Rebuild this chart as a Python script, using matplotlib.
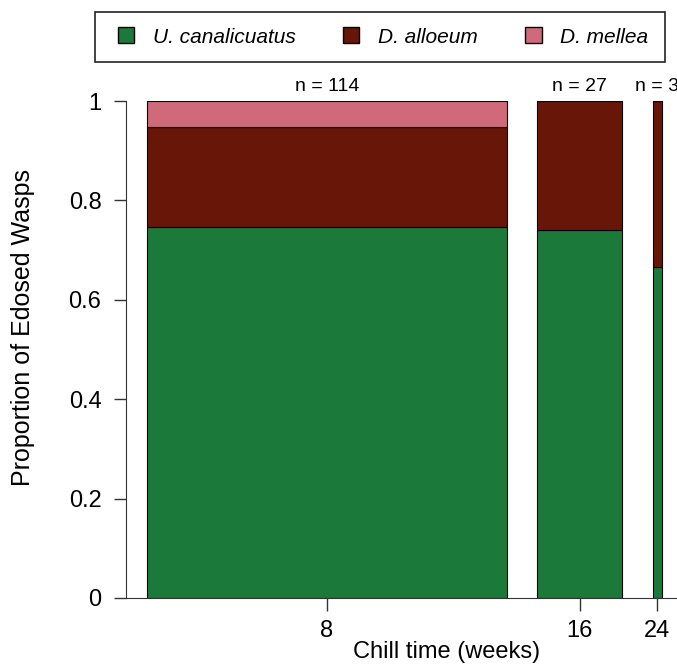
import numpy as np
import matplotlib.pyplot as plt
from matplotlib.patches import Patch, Rectangle

plt.rcParams['font.family'] = ['Liberation Sans', 'DejaVu Sans']

weeks = ['8', '16', '24']
n_total = np.array([114, 27, 3])
u_canal = np.array([85, 20, 2])
d_allo = np.array([23, 7, 1])
d_mell = np.array([6, 0, 0])

species = ['U. canalicuatus', 'D. alloeum', 'D. mellea']
colors = ['#1B7A3A', '#681608', '#D06A7A']

p1 = u_canal / n_total
p2 = d_allo / n_total
p3 = d_mell / n_total

# widths proportional to n, gap = 0.2 * mean width (like R barplot)
space = 0.2 * n_total.mean()
lefts = space + np.concatenate([[0], np.cumsum(n_total[:-1] + space)])
centers = lefts + n_total / 2
x_lo, x_hi = lefts[0], lefts[-1] + n_total[-1]
ext = 0.04 * (x_hi - x_lo)

W, H = 677, 669
fig = plt.figure(figsize=(W / 100, H / 100), dpi=100)
ax = fig.add_axes([126.4 / W, 71 / H, 556.2 / W, 497 / H])

kw = dict(align='edge', edgecolor='black', linewidth=0.8)
ax.bar(lefts, p1, width=n_total, color=colors[0], **kw)
ax.bar(lefts, p2, width=n_total, bottom=p1, color=colors[1], **kw)
ax.bar(lefts, p3, width=n_total, bottom=p1 + p2, color=colors[2], **kw)

for c, n in zip(centers, n_total):
    ax.text(c, 1.012, f'n = {n}', ha='center', va='bottom', fontsize=14,
            clip_on=False)

ax.set_xlim(x_lo - ext, x_hi + ext)
ax.set_ylim(0, 1)
ax.set_xticks(centers)
ax.set_xticklabels(weeks)
ax.set_yticks([0, 0.2, 0.4, 0.6, 0.8, 1])
ax.set_yticklabels(['0', '0.2', '0.4', '0.6', '0.8', '1'])
ax.tick_params(axis='both', labelsize=17, length=9, width=1, color='#333333')
ax.tick_params(axis='y', pad=9)
ax.tick_params(axis='x', pad=7)

ax.spines['top'].set_visible(False)
ax.spines['right'].set_visible(False)
ax.spines['left'].set_color('#333333')
ax.spines['bottom'].set_color('#333333')

ax.set_xlabel('Chill time (weeks)', fontsize=17)
ax.set_ylabel('Proportion of Edosed Wasps', fontsize=18)
ax.xaxis.set_label_coords(0.575, (598 - 641) / 497)
ax.yaxis.set_label_coords((35 - 126.4) / 556.2, (598 - 327) / 497)

# legend box on top
fig.patches.append(Rectangle((95 / W, 1 - 62 / H), 570 / W, 50 / H,
                             transform=fig.transFigure, fill=False,
                             edgecolor='#222222', linewidth=1.2))
handles = [Patch(facecolor=c, edgecolor='black', linewidth=1) for c in colors]
fig.legend(handles, species, loc='center', bbox_to_anchor=(383 / W, 1 - 37 / H),
           ncol=3, prop={'style': 'italic', 'size': 15},
           frameon=False, handlelength=0.8, handleheight=0.8,
           columnspacing=2.25, handletextpad=0.9)

fig.savefig('out.png', dpi=100)
